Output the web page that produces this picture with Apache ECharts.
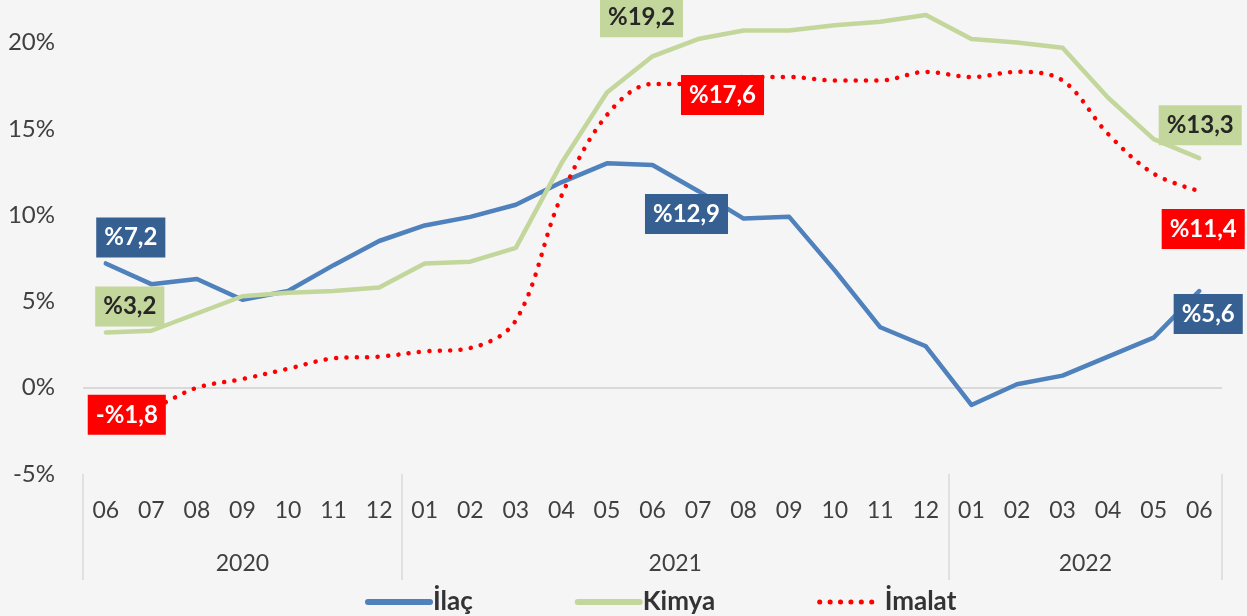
<!DOCTYPE html>
<html>
<head>
<meta charset="utf-8">
<script src="https://cdn.jsdelivr.net/npm/echarts@6/dist/echarts.min.js"></script>
<style>
html,body{margin:0;padding:0;background:#f5f5f5;}
#c{width:1247px;height:616px;}
</style>
</head>
<body>
<div id="c"></div>
<script>
// ---- data ----
const periods = ['2020-06','2020-07','2020-08','2020-09','2020-10','2020-11','2020-12',
  '2021-01','2021-02','2021-03','2021-04','2021-05','2021-06','2021-07','2021-08','2021-09','2021-10','2021-11','2021-12',
  '2022-01','2022-02','2022-03','2022-04','2022-05','2022-06'];
const seriesNames = ['İlaç', 'Kimya', 'İmalat'];
const ilac   = [7.2, 6.0, 6.3, 5.1, 5.6, 7.1, 8.5, 9.4, 9.9, 10.6, 11.9, 13.0, 12.9, 11.4, 9.8, 9.9, 6.8, 3.5, 2.4, -1.0, 0.2, 0.7, 1.8, 2.9, 5.6];
const kimya  = [3.2, 3.3, 4.3, 5.3, 5.5, 5.6, 5.8, 7.2, 7.3, 8.1, 13.0, 17.1, 19.2, 20.2, 20.7, 20.7, 21.0, 21.2, 21.6, 20.2, 20.0, 19.7, 16.8, 14.4, 13.3];
const imalat = [-1.8, -1.2, 0.0, 0.5, 1.1, 1.7, 1.8, 2.1, 2.3, 3.9, 11.1, 15.8, 17.6, 17.6, 18.0, 18.0, 17.8, 17.8, 18.3, 18.0, 18.3, 17.8, 14.7, 12.4, 11.4];
const yTicks = [-5, 0, 5, 10, 15, 20];
const labelIdx = [0, 12, 24];

// ---- derived ----
const months = periods.map(p => p.slice(5));
const years = [];
periods.forEach((p, i) => {
  const y = p.slice(0, 4);
  if (!years.length || years[years.length - 1].year !== y) years.push({year: y, start: i, end: i + 1});
  else years[years.length - 1].end = i + 1;
});
const yearAt = {};
years.forEach(g => { yearAt[((g.start + g.end) / 2).toFixed(1)] = g.year; });
const boundaries = years.map(g => g.start);

const fmt = v => (v < 0 ? '-%' : '%') + Math.abs(v).toFixed(1).replace('.', ',');

const FONT = 'Lato, "Noto Sans", sans-serif';

// label styling per series (positions relative to the point)
const labelStyles = [
  {bg: '#376092', color: '#ffffff', offsets: [[25, -26], [34, 49], [9, 23]]},
  {bg: '#c3d69b', color: '#262626', offsets: [[24, -26], [-11, -39], [1, -33]]},
  {bg: '#ff0000', color: '#ffffff', offsets: [[21, -4], [70, 11], [4, 38]]}
];

function buildData(values, si) {
  const st = labelStyles[si];
  return values.map((v, i) => {
    const k = labelIdx.indexOf(i);
    if (k < 0) return v;
    return {
      value: v,
      symbol: 'circle',
      symbolSize: 0,
      label: {
        show: true,
        position: 'inside',
        align: 'center',
        verticalAlign: 'middle',
        offset: st.offsets[k],
        formatter: () => fmt(v),
        backgroundColor: st.bg,
        color: st.color,
        padding: [8, 8, 7, 8],
        fontFamily: FONT,
        fontWeight: 'bold',
        fontSize: 24,
        lineHeight: 25
      }
    };
  });
}

const lineColors = ['#4f81bd', '#c3d69b', '#ff0000'];
const allValues = [ilac, kimya, imalat];

const chart = echarts.init(document.getElementById('c'), null, {renderer: 'canvas'});
chart.setOption({
  animation: false,
  backgroundColor: '#f5f5f5',
  grid: {left: 83, right: 25, top: 8, bottom: 142, containLabel: false},
  legend: {
    left: 360, top: 584,
    itemWidth: 62, itemHeight: 8, itemGap: 102,
    itemStyle: {color: 'rgba(0,0,0,0)', opacity: 0, borderWidth: 0},
    lineStyle: {width: 6, cap: 'round'},
    textStyle: {fontFamily: FONT, fontWeight: 'bold', fontSize: 26, color: '#333333', padding: [0, 0, 0, -2]},
    data: seriesNames.map((n, i) => i === 2 ? {name: n, lineStyle: {width: 5, cap: 'round'}} : n)
  },
  xAxis: [
    {
      type: 'category',
      data: months,
      boundaryGap: true,
      axisLine: {show: false, onZero: false},
      axisTick: {
        show: true,
        inside: false,
        length: 106,
        interval: (i) => boundaries.indexOf(i) >= 0,
        lineStyle: {color: '#d9d9d9', width: 1.5}
      },
      axisLabel: {
        interval: 0, margin: 25,
        fontFamily: FONT, fontSize: 23, color: '#404040'
      },
      splitLine: {show: false}
    },
    {
      type: 'value',
      position: 'bottom',
      min: 0, max: periods.length, interval: 0.5,
      axisLine: {show: false, onZero: false}, axisTick: {show: false}, splitLine: {show: false},
      axisLabel: {
        margin: 78,
        fontFamily: FONT, fontSize: 23, color: '#404040',
        formatter: v => yearAt[v.toFixed(1)] || ''
      }
    }
  ],
  yAxis: {
    type: 'value',
    min: yTicks[0], max: 22, interval: 5,
    axisLine: {show: false}, axisTick: {show: false}, splitLine: {show: false},
    axisLabel: {
      showMaxLabel: false,
      margin: 28,
      fontFamily: FONT, fontSize: 24, color: '#404040',
      formatter: v => yTicks.indexOf(v) >= 0 ? v + '%' : ''
    }
  },
  series: allValues.map((vals, si) => ({
    name: seriesNames[si],
    type: 'line',
    xAxisIndex: 0,
    data: buildData(vals, si),
    showSymbol: true,
    symbol: 'none',
    smooth: si === 2 ? 0.35 : false,
    color: lineColors[si],
    lineStyle: si === 2
      ? {color: lineColors[si], width: 4.5, type: [0.1, 10.3], cap: 'round'}
      : {color: lineColors[si], width: 4.5, cap: 'round', join: 'round'},
    itemStyle: {color: lineColors[si]},
    emphasis: {disabled: true},
    z: 3 + si,
    markLine: si === 0 ? {
      silent: true, symbol: 'none', z: 1,
      label: {show: false},
      lineStyle: {color: '#d9d9d9', width: 2, type: 'solid'},
      data: [{yAxis: 0}]
    } : undefined
  }))
});
</script>
</body>
</html>
